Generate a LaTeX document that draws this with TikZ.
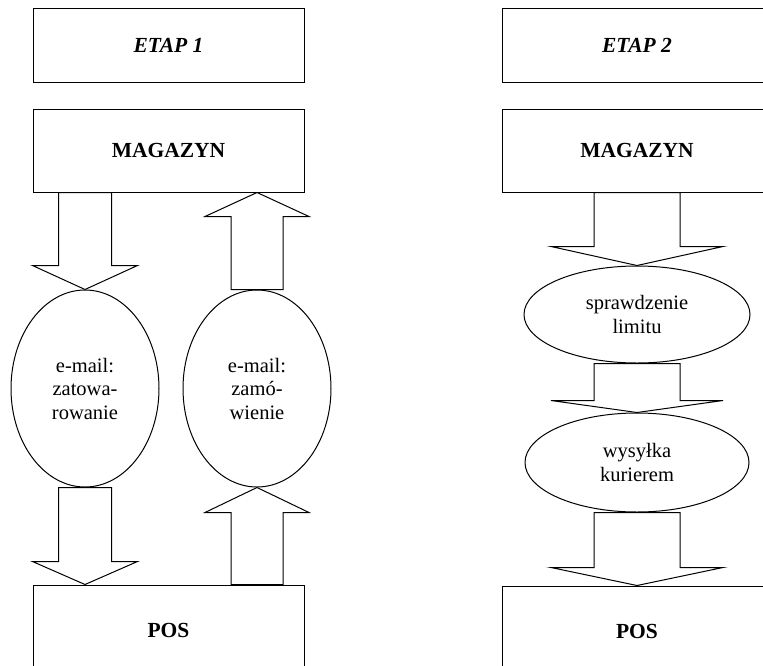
\documentclass[tikz,border=0pt]{standalone}
\usepackage{fontspec}
\setmainfont{Liberation Serif}
\usetikzlibrary{shapes.geometric,calc}
\tikzset{
  boxnode/.style={draw, line width=1pt, rectangle, inner sep=0pt, font=\fontsize{21.5}{24}\selectfont\bfseries},
  etapnode/.style={boxnode, font=\fontsize{21.5}{24}\selectfont\bfseries\itshape},
  ovalnode/.style={draw, line width=1pt, ellipse, inner sep=0pt, align=center, font=\fontsize{20.5}{23.5}\selectfont},
  barrow/.style={draw, line width=1pt, fill=white, line join=miter}
}
\newcommand\blockarrow[5]{% start, end, shaft half-width, head half-width, head length
  \path (#1) coordinate (hs) (#2) coordinate (he);
  \path ($(he)!#5!(hs)$) coordinate (hb);
  \draw[barrow] ($(hs)!#3!90:(he)$) -- ($(hb)!#3!90:(he)$) -- ($(hb)!#4!90:(he)$) -- (he)
    -- ($(hb)!#4!-90:(he)$) -- ($(hb)!#3!-90:(he)$) -- ($(hs)!#3!-90:(he)$) -- cycle;
}
\begin{document}
\begin{tikzpicture}[x=1pt,y=-1pt]
\path[use as bounding box] (0,0) rectangle (763,665);
\clip (0,0) rectangle (763,665);
% left column
\node[etapnode, minimum width=271pt, minimum height=74pt] (etap1) at (168.5,45) {ETAP 1};
\node[boxnode, minimum width=271pt, minimum height=83pt] (mag1) at (168.5,150.5) {MAGAZYN};
\node[boxnode, minimum width=271pt, minimum height=90pt] (pos1) at (168.5,630) {POS};
\node[ovalnode, minimum width=148pt, minimum height=197pt] (e1) at (85,388.5) {e-mail:\\zatowa-\\rowanie};
\node[ovalnode, minimum width=148pt, minimum height=197pt] (e2) at (257,388.5) {e-mail:\\zamó-\\wienie};
% right column
\node[etapnode, minimum width=270pt, minimum height=74pt] (etap2) at (637,45) {ETAP 2};
\node[boxnode, minimum width=270pt, minimum height=83pt] (mag2) at (637,150.5) {MAGAZYN};
\node[boxnode, minimum width=270pt, minimum height=90pt] (pos2) at (637,631) {POS};
\node[ovalnode, minimum width=226pt, minimum height=97pt] (r1) at (637,314.5) {sprawdzenie\\limitu};
\node[ovalnode, minimum width=224pt, minimum height=99pt] (r2) at (637,462.5) {wysyłka\\kurierem};
% free ends of the block arrows
\coordinate (aA) at (e1.north |- mag1.south);
\coordinate (aB) at (e1.south |- pos1.north);
\coordinate (aC) at (e2.north |- mag1.south);
\coordinate (aD) at (e2.south |- pos1.north);
% block arrows
\blockarrow{aA}{e1.north}{26.5pt}{52.5pt}{24pt}
\blockarrow{e1.south}{aB}{26.5pt}{52.5pt}{23pt}
\blockarrow{e2.north}{aC}{26pt}{52pt}{24pt}
\blockarrow{aD}{e2.south}{26pt}{52pt}{25pt}
\blockarrow{mag2.south}{r1.north}{43pt}{86pt}{19pt}
\blockarrow{r1.south}{r2.north}{43pt}{86pt}{12pt}
\blockarrow{r2.south}{pos2.north}{43pt}{86pt}{18pt}
\end{tikzpicture}
\end{document}
